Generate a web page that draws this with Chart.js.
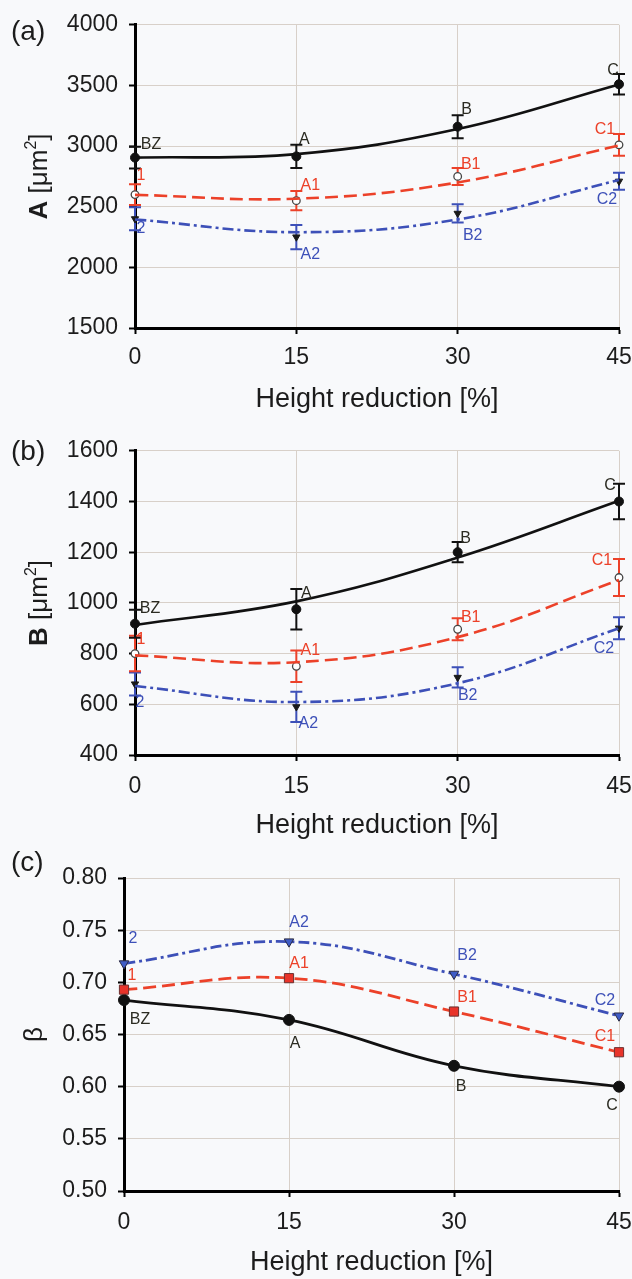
<!DOCTYPE html>
<html><head><meta charset="utf-8">
<script src="https://cdn.jsdelivr.net/npm/chart.js@4.4.1/dist/chart.umd.min.js"></script>
<style>
html,body{margin:0;padding:0;background:#f8f9fb;}
#wrap{position:relative;width:632px;height:1279px;overflow:hidden;}
.pane{position:absolute;left:0;width:632px;}
</style></head><body>
<div id="wrap">
<div class="pane" style="top:0;height:426px"><canvas id="ca"></canvas></div>
<div class="pane" style="top:426px;height:420px"><canvas id="cb"></canvas></div>
<div class="pane" style="top:846px;height:433px"><canvas id="cc"></canvas></div>
</div>
<script>
// ---------- DATA ----------
const heightReduction = [0, 15, 30, 45];
const xAxisTitle = 'Height reduction [%]';
const labelsBlack = ['BZ', 'A', 'B', 'C'];
const labelsRed = ['1', 'A1', 'B1', 'C1'];
const labelsBlue = ['2', 'A2', 'B2', 'C2'];

// (a) A [µm2]
const aTicks = [1500, 2000, 2500, 3000, 3500, 4000];
const aBlack = [2905, 2915, 3160, 3510];
const aBlackErr = [90, 95, 95, 85];
const aRed = [2600, 2550, 2750, 3010];
const aRedErr = [85, 80, 70, 90];
const aBlue = [2400, 2250, 2445, 2710];
const aBlueErr = [95, 100, 75, 70];
const aBlackTrend = [2905, 2934, 3140, 3508];
const aRedTrend = [2598, 2566, 2700, 3005];
const aBlueTrend = [2395, 2290, 2395, 2720];

// (b) B [µm2]
const bTicks = [400, 600, 800, 1000, 1200, 1400, 1600];
const bBlack = [918, 975, 1200, 1400];
const bBlackErr = [55, 80, 40, 70];
const bRed = [800, 750, 896, 1100];
const bRedErr = [70, 62, 43, 73];
const bBlue = [680, 590, 706, 900];
const bBlueErr = [45, 60, 40, 43];
const bBlackTrend = [913, 1006, 1179, 1403];
const bRedTrend = [793, 766, 865, 1090];
const bBlueTrend = [672, 609, 683, 900];

// (c) beta
const cTicks = [0.50, 0.55, 0.60, 0.65, 0.70, 0.75, 0.80];
const cBlack = [0.683, 0.664, 0.620, 0.600];
const cRed = [0.693, 0.704, 0.672, 0.633];
const cBlue = [0.718, 0.739, 0.708, 0.668];

// ---------- STYLE ----------
const FONT = "'Liberation Sans', Arial, Helvetica, sans-serif";
const TXT = '#1c1c1c';
const GRID = '#d8d0c9';
const BLACK = '#111111', RED = '#ec4129', BLUE = '#3d50b8';
const RED_DASH = [13, 6], BLUE_DASH = [11, 4, 3, 4];

const decor = {
  id: 'decor',
  beforeDatasetsDraw(chart) {
    const ctx = chart.ctx, ys = chart.scales.y;
    chart.data.datasets.forEach((ds, di) => {
      if (!ds.errors) return;
      const meta = chart.getDatasetMeta(di);
      ctx.save();
      ctx.strokeStyle = ds.errColor; ctx.lineWidth = 2;
      meta.data.forEach((pt, i) => {
        const v = ds.data[i].y, e = ds.errors[i];
        const x = pt.x, y1 = ys.getPixelForValue(v + e), y2 = ys.getPixelForValue(v - e);
        const c = 6;
        ctx.beginPath();
        ctx.moveTo(x, y1); ctx.lineTo(x, y2);
        ctx.moveTo(x - c, y1); ctx.lineTo(x + c, y1);
        ctx.moveTo(x - c, y2); ctx.lineTo(x + c, y2);
        ctx.stroke();
      });
      ctx.restore();
    });
  },
  afterDraw(chart, args, opts) {
    const ctx = chart.ctx;
    chart.data.datasets.forEach((ds, di) => {
      if (!ds.texts) return;
      const meta = chart.getDatasetMeta(di);
      ctx.save();
      ctx.font = '16px ' + FONT; ctx.fillStyle = ds.textColor;
      ctx.textAlign = 'center'; ctx.textBaseline = 'middle';
      meta.data.forEach((pt, i) => {
        const o = ds.textOffsets[i];
        ctx.fillText(ds.texts[i], pt.x + o[0], pt.y + o[1]);
      });
      ctx.restore();
    });
    ctx.save();
    ctx.font = '28px ' + FONT; ctx.fillStyle = TXT;
    ctx.textAlign = 'left'; ctx.textBaseline = 'middle';
    ctx.fillText(opts.letter, 11, opts.letterY);
    ctx.restore();
    const area = chart.chartArea;
    const cy = (area.top + area.bottom) / 2;
    const size = 26;
    ctx.save();
    ctx.translate(opts.yTitleX, cy);
    ctx.rotate(-Math.PI / 2);
    ctx.fillStyle = TXT; ctx.textBaseline = 'alphabetic'; ctx.textAlign = 'left';
    const parts = opts.yTitle.map(p => {
      const f = (p.bold ? 'bold ' : '') + (p.sup ? Math.round(size * 0.62) : size) + 'px ' + FONT;
      ctx.font = f;
      return { p, f, w: ctx.measureText(p.t).width };
    });
    const total = parts.reduce((s, q) => s + q.w, 0);
    let x = -total / 2;
    const base = size * 0.36;
    parts.forEach(q => {
      ctx.font = q.f;
      ctx.fillText(q.p.t, x, q.p.sup ? base - size * 0.42 : base);
      x += q.w;
    });
    ctx.restore();
  }
};

function pts(vals) { return heightReduction.map((x, i) => ({ x, y: vals[i] })); }

function makeChart(id, p) {
  const el = document.getElementById(id);
  const H = el.parentNode.clientHeight;
  return new Chart(el, {
    type: 'line',
    data: { datasets: p.datasets },
    options: {
      responsive: true, maintainAspectRatio: false, animation: false,
      layout: { padding: { top: p.top, right: 13, left: 0, bottom: 0 } },
      plugins: {
        legend: { display: false }, tooltip: { enabled: false },
        decor: { letter: p.letter, letterY: p.letterY, yTitle: p.yTitle, yTitleX: p.yTitleX }
      },
      elements: { line: { fill: false } },
      scales: {
        x: {
          type: 'linear', min: 0, max: 45,
          afterBuildTicks: s => { s.ticks = heightReduction.map(v => ({ value: v })); },
          ticks: { font: { family: FONT, size: 23 }, color: TXT, padding: p.xTickPad, maxRotation: 0, autoSkip: false, callback: v => String(v) },
          grid: { color: GRID, lineWidth: 1, tickColor: '#000', tickLength: 6, tickWidth: 2 },
          border: { color: '#000', width: 3 },
          title: { display: true, text: xAxisTitle, font: { family: FONT, size: 27 }, color: TXT, padding: { top: 0, bottom: p.xTitlePad } },
          afterFit: s => { s.height = H - p.bottom; s.paddingLeft = 0; s.paddingRight = 0; }
        },
        y: {
          type: 'linear', min: p.yTicks[0], max: p.yTicks[p.yTicks.length - 1],
          afterBuildTicks: s => { s.ticks = p.yTicks.map(v => ({ value: v })); },
          ticks: { font: { family: FONT, size: 23 }, color: TXT, padding: 11, callback: p.fmt },
          grid: { color: GRID, lineWidth: 1, tickColor: '#000', tickLength: 6, tickWidth: 2 },
          border: { color: '#000', width: 3 },
          afterFit: s => { s.width = p.left; }
        }
      }
    },
    plugins: [decor]
  });
}

function trend(vals, color, dash) {
  return { data: pts(vals), borderColor: color, borderWidth: 2.6, borderDash: dash || [], tension: 0.4, pointRadius: 0, clip: false };
}
function marks(vals, errs, errColor, style, texts, textColor, offsets) {
  return Object.assign({ data: pts(vals), showLine: false, clip: false, errors: errs, errColor,
    texts, textColor, textOffsets: offsets }, style);
}

const blackDot = { pointStyle: 'circle', pointRadius: 4.5, pointBackgroundColor: BLACK, pointBorderColor: BLACK, pointBorderWidth: 1 };
const openDot = { pointStyle: 'circle', pointRadius: 3.8, pointBackgroundColor: '#ffffff', pointBorderColor: '#444', pointBorderWidth: 1.3 };
const smallTri = { pointStyle: 'triangle', pointRotation: 180, pointRadius: 4.2, pointBackgroundColor: '#1a1a1a', pointBorderColor: '#1a1a1a', pointBorderWidth: 1 };

makeChart('ca', {
  top: 23, bottom: 328, left: 135, xTickPad: 10, xTitlePad: 10,
  letter: '(a)', letterY: 32, yTitleX: 38,
  yTicks: aTicks, fmt: v => String(v),
  yTitle: [{ t: 'A', bold: true }, { t: ' [\u03bcm' }, { t: '2', sup: true }, { t: ']' }],
  datasets: [
    trend(aBlackTrend, BLACK), trend(aRedTrend, RED, RED_DASH), trend(aBlueTrend, BLUE, BLUE_DASH),
    marks(aBlue, aBlueErr, BLUE, smallTri, labelsBlue, BLUE, [[6, 10], [14, 18], [15, 22], [-12, 18]]),
    marks(aRed, aRedErr, RED, openDot, labelsRed, RED, [[6, -19], [14, -15], [13, -12], [-14, -15]]),
    marks(aBlack, aBlackErr, BLACK, blackDot, labelsBlack, '#2b2b22', [[16, -13], [8, -17], [9, -17], [-6, -14]])
  ]
});

makeChart('cb', {
  top: 24, bottom: 329, left: 135, xTickPad: 12, xTitlePad: 4,
  letter: '(b)', letterY: 26, yTitleX: 38,
  yTicks: bTicks, fmt: v => String(v),
  yTitle: [{ t: 'B', bold: true }, { t: ' [\u03bcm' }, { t: '2', sup: true }, { t: ']' }],
  datasets: [
    trend(bBlackTrend, BLACK), trend(bRedTrend, RED, RED_DASH), trend(bBlueTrend, BLUE, BLUE_DASH),
    marks(bBlue, bBlueErr, BLUE, smallTri, labelsBlue, BLUE, [[5, 19], [12, 17], [10, 18], [-15, 20]]),
    marks(bRed, bRedErr, RED, openDot, labelsRed, RED, [[6, -14], [14, -16], [13, -12], [-17, -17]]),
    marks(bBlack, bBlackErr, BLACK, blackDot, labelsBlack, '#2b2b22', [[15, -15], [10, -16], [8, -14], [-9, -16]])
  ]
});

const cLine = (vals, color, dash, style, texts, textColor, offsets) => Object.assign({
  data: pts(vals), borderColor: color, borderWidth: 2.8, borderDash: dash || [], tension: 0.4, clip: false,
  texts, textColor, textOffsets: offsets }, style);

makeChart('cc', {
  top: 32, bottom: 345, left: 124, xTickPad: 12, xTitlePad: 0,
  letter: '(c)', letterY: 17, yTitleX: 33,
  yTicks: cTicks, fmt: v => v.toFixed(2),
  yTitle: [{ t: '\u03b2' }],
  datasets: [
    cLine(cBlue, BLUE, BLUE_DASH, { pointStyle: 'triangle', pointRotation: 180, pointRadius: 5.5, pointBackgroundColor: '#3f5cc6', pointBorderColor: '#2a2a44', pointBorderWidth: 1 },
      labelsBlue, BLUE, [[9, -25], [10, -19], [13, -18], [-14, -15]]),
    cLine(cRed, RED, RED_DASH, { pointStyle: 'rect', pointRadius: 6.5, pointBackgroundColor: '#e8332a', pointBorderColor: '#6b3030', pointBorderWidth: 1 },
      labelsRed, RED, [[8, -14], [10, -15], [13, -14], [-14, -16]]),
    cLine(cBlack, BLACK, null, { pointStyle: 'circle', pointRadius: 5.5, pointBackgroundColor: BLACK, pointBorderColor: BLACK, pointBorderWidth: 1 },
      labelsBlack, '#2b2b22', [[16, 20], [6, 24], [7, 21], [-7, 19]])
  ]
});
</script>
</body></html>
